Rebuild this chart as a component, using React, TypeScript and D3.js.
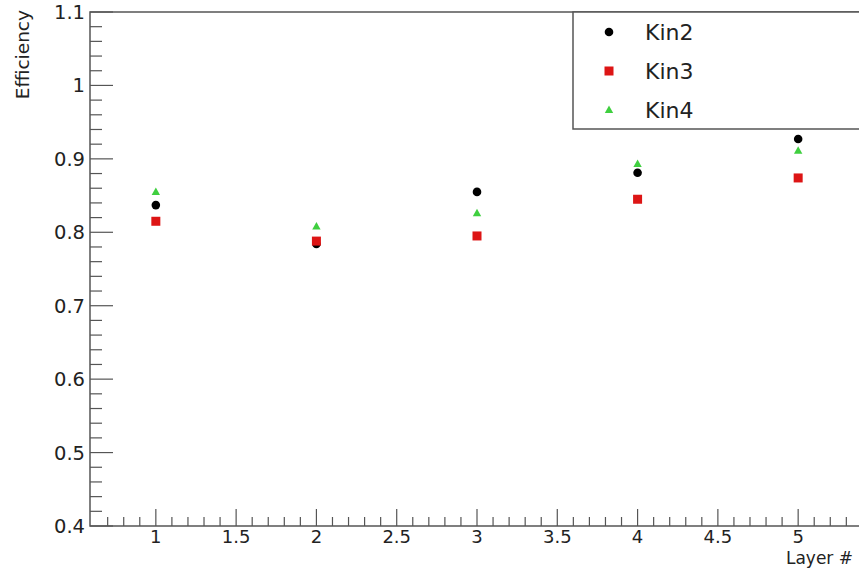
import * as d3 from "d3";
import React, {useEffect, useRef} from "react";

const layers = [1, 2, 3, 4, 5];
const kin2 = [0.837, 0.784, 0.855, 0.881, 0.927];
const kin3 = [0.815, 0.788, 0.795, 0.845, 0.874];
const kin4 = [0.855, 0.808, 0.826, 0.893, 0.911];
const seriesNames = ['Kin2', 'Kin3', 'Kin4'];
const seriesColors = ['#000000', '#dd1515', '#3fcf3f'];
const xMajorTicks = [1, 1.5, 2, 2.5, 3, 3.5, 4, 4.5, 5];
const yMajorTicks = [0.4, 0.5, 0.6, 0.7, 0.8, 0.9, 1, 1.1];

const width = 859;
const height = 569;
const font = 'DejaVu Sans, Arial, sans-serif';

const App: React.FC = () => {
  const ref = useRef<SVGSVGElement | null>(null);

  useEffect(() => {
    const svg = d3.select(ref.current);
    svg.selectAll('*').remove();

    const frame = { left: 90, top: 12, bottom: 526, right: 864 };
    const axisColor = '#555';

    const xScale = d3.scaleLinear().domain([0.59, 5.41]).range([frame.left, frame.right]);
    const yScale = d3.scaleLinear().domain([0.4, 1.1]).range([frame.bottom, frame.top]);

    svg.append('rect').attr('width', width).attr('height', height).attr('fill', '#fff');

    // frame lines (right edge falls outside the picture)
    svg.append('path')
      .attr('d', `M${frame.right},${frame.top}H${frame.left}V${frame.bottom}H${frame.right}`)
      .attr('fill', 'none')
      .attr('stroke', axisColor)
      .attr('stroke-width', 1.5);

    // x ticks: minor every 0.1, major every 0.5
    const xMinor = d3.range(6, 55).map(v => v / 10)
      .filter(v => xScale(v) > frame.left + 3 && xScale(v) < width);
    svg.append('g')
      .selectAll('line')
      .data(xMinor)
      .enter()
      .append('line')
      .attr('x1', d => xScale(d))
      .attr('x2', d => xScale(d))
      .attr('y1', frame.bottom)
      .attr('y2', d => frame.bottom - (xMajorTicks.some(m => Math.abs(m - d) < 1e-6) ? 17 : 9))
      .attr('stroke', axisColor)
      .attr('stroke-width', 1.2);

    svg.append('g')
      .selectAll('text')
      .data(xMajorTicks)
      .enter()
      .append('text')
      .attr('x', d => xScale(d))
      .attr('y', 543)
      .attr('text-anchor', 'middle')
      .attr('font-family', font)
      .attr('font-size', 18)
      .attr('fill', '#222')
      .text(d => String(d));

    // y ticks: minor every 0.02, major every 0.1
    const yMinor = d3.range(20, 56).map(v => v / 50);
    svg.append('g')
      .selectAll('line')
      .data(yMinor)
      .enter()
      .append('line')
      .attr('x1', frame.left)
      .attr('x2', d => frame.left + (yMajorTicks.some(m => Math.abs(m - d) < 1e-6) ? 23 : 12))
      .attr('y1', d => yScale(d))
      .attr('y2', d => yScale(d))
      .attr('stroke', axisColor)
      .attr('stroke-width', 1.2);

    svg.append('g')
      .selectAll('text')
      .data(yMajorTicks)
      .enter()
      .append('text')
      .attr('x', frame.left - 5)
      .attr('y', d => yScale(d))
      .attr('dy', '0.36em')
      .attr('text-anchor', 'end')
      .attr('font-family', font)
      .attr('font-size', 19.5)
      .attr('fill', '#222')
      .text(d => String(d));

    // axis titles
    svg.append('text')
      .attr('transform', 'translate(29, 10) rotate(-90)')
      .attr('text-anchor', 'end')
      .attr('font-family', font)
      .attr('font-size', 18.5)
      .attr('fill', '#222')
      .text('Efficiency');

    svg.append('text')
      .attr('x', 853)
      .attr('y', 564)
      .attr('text-anchor', 'end')
      .attr('font-family', font)
      .attr('font-size', 17)
      .attr('fill', '#222')
      .text('Layer #');

    // markers
    const drawMarker = (g: d3.Selection<SVGGElement, unknown, null, undefined>, kind: number, x: number, y: number) => {
      if (kind === 0) {
        g.append('circle').attr('cx', x).attr('cy', y).attr('r', 4.3).attr('fill', seriesColors[0]);
      } else if (kind === 1) {
        g.append('rect').attr('x', x - 4.5).attr('y', y - 4.5).attr('width', 9).attr('height', 9).attr('fill', seriesColors[1]);
      } else {
        g.append('path').attr('d', `M${x},${y - 4.5}L${x + 4.2},${y + 3}L${x - 4.2},${y + 3}Z`).attr('fill', seriesColors[2]);
      }
    };

    const allSeries = [kin2, kin3, kin4];
    allSeries.forEach((values, si) => {
      const g = svg.append('g');
      values.forEach((v, i) => drawMarker(g, si, xScale(layers[i]), yScale(v)));
    });

    // legend
    const legend = svg.append('g');
    legend.append('rect')
      .attr('x', 573)
      .attr('y', frame.top)
      .attr('width', 300)
      .attr('height', 117)
      .attr('fill', '#fff')
      .attr('stroke', axisColor)
      .attr('stroke-width', 1.5);

    const legendY = [32, 71, 110];
    seriesNames.forEach((name, i) => {
      drawMarker(legend, i, 609, legendY[i]);
      legend.append('text')
        .attr('x', 645)
        .attr('y', legendY[i])
        .attr('dy', '0.36em')
        .attr('font-family', font)
        .attr('font-size', 22)
        .attr('fill', '#222')
        .text(name);
    });

    return () => {
      svg.selectAll('*').remove();
    };
  }, []);

  return <svg ref={ref} width={width} height={height} style={{position: 'absolute', left: 0, top: 0}} />;
};

export default App;
